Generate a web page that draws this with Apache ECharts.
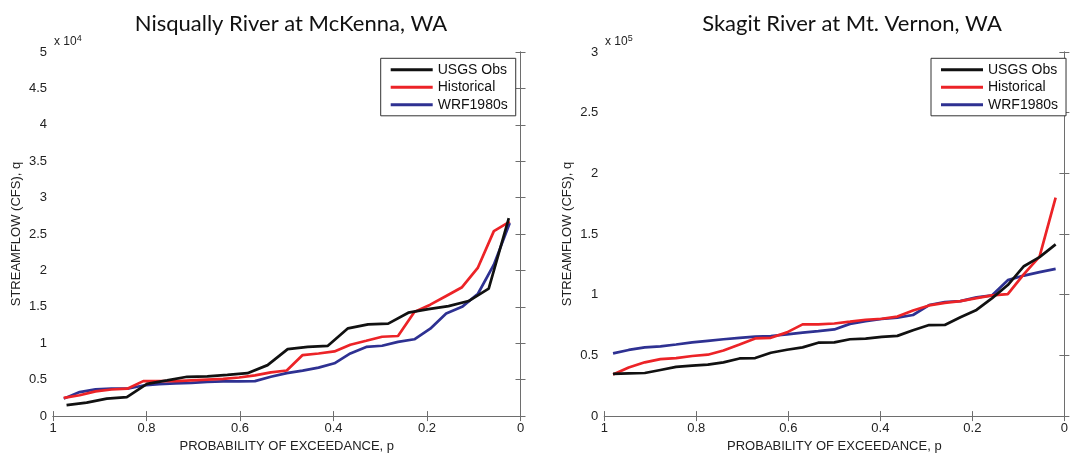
<!DOCTYPE html>
<html>
<head>
<meta charset="utf-8">
<script src="https://cdn.jsdelivr.net/npm/echarts@6/dist/echarts.min.js"></script>
<style>
html,body{margin:0;padding:0;background:#fff;}
#chart{width:1071px;height:458px;}
</style>
</head>
<body>
<div id="chart"></div>
<script>
// ---- Data ----
const titles = ['Nisqually River at McKenna, WA', 'Skagit River at Mt. Vernon, WA'];
const seriesNames = ['USGS Obs', 'Historical', 'WRF1980s'];
const xTickLabels = ['0', '0.2', '0.4', '0.6', '0.8', '1'];

// Nisqually (cfs)
const pNisObs = [0.971,0.928,0.885,0.842,0.799,0.756,0.713,0.670,0.627,0.584,0.541,0.498,0.455,0.412,0.369,0.326,0.283,0.240,0.197,0.154,0.111,0.068,0.025];
const qNisObs = [1500,1850,2400,2600,4430,4900,5400,5450,5670,5900,7000,9200,9500,9650,12050,12600,12700,14200,14700,15100,15800,17500,27200];
const pNisSim = [0.977,0.943,0.909,0.875,0.841,0.807,0.773,0.738,0.704,0.670,0.636,0.602,0.568,0.534,0.500,0.466,0.432,0.398,0.364,0.330,0.296,0.262,0.227,0.193,0.159,0.125,0.091,0.057,0.023];
const qNisHist = [2500,2860,3400,3650,3760,4800,4800,4800,4900,5000,5100,5300,5600,6000,6260,8380,8600,8880,9800,10340,10900,11000,14300,15300,16500,17700,20400,25400,26700];
const qNisWrf = [2400,3300,3670,3760,3760,4200,4400,4500,4550,4700,4760,4760,4800,5400,5900,6250,6650,7250,8600,9500,9660,10200,10550,12000,14100,15000,16800,20800,26500];

// Skagit (cfs)
const pSkaSim = [0.981,0.947,0.912,0.878,0.844,0.809,0.775,0.741,0.706,0.672,0.638,0.603,0.569,0.535,0.500,0.466,0.432,0.397,0.363,0.329,0.294,0.260,0.226,0.191,0.157,0.123,0.088,0.054,0.019];
const qSkaObs = [34800,35200,35500,38000,40500,41600,42400,44300,47500,47800,52200,54700,56600,60500,60700,63300,63900,65300,66100,70700,75000,75100,81500,87500,97200,108000,123500,131000,141500];
const qSkaHist = [34300,40000,44300,47000,47800,49500,50600,54000,59000,64000,64500,69000,75600,75600,76300,77800,79400,80200,82000,87000,91200,93300,94700,97200,99500,100500,117000,131400,180000];
const qSkaWrf = [51700,54500,56600,57500,59000,60700,62000,63300,64500,65500,66000,67400,68800,70000,71400,76000,78300,80000,81200,83300,91500,94000,94700,97800,99500,112000,115800,118600,121300];

const colors = ['#111111', '#ec2327', '#2e3192'];

function pairs(p, q) { return p.map((v, i) => [v, q[i]]); }

const chart = echarts.init(document.getElementById('chart'));
const axisColor = '#6e6e6e';
const labelColor = '#222';
const fontFam = '"Liberation Sans", Arial, sans-serif';

const grids = [
  { left: 53, right: 550.5, top: 52, bottom: 38.7, containLabel: false },
  { left: 604.3, right: 2.5, top: 52, bottom: 38.7, containLabel: false }
];
const yMax = [50000, 300000];
const yStep = [5000, 50000];
const yScale = [1e4, 1e5];

const xAxes = [], yAxes = [];
[0, 1].forEach(g => {
  xAxes.push({
    type: 'value', gridIndex: g, min: 0, max: 1, interval: 0.2, inverse: true,
    position: 'bottom',
    name: 'PROBABILITY OF EXCEEDANCE, p', nameLocation: 'middle', nameGap: 20,
    nameTextStyle: { fontSize: 13, color: labelColor, fontFamily: fontFam },
    axisLine: { show: true, lineStyle: { color: axisColor, width: 1 } },
    axisTick: { show: true, inside: true, length: 5, lineStyle: { color: axisColor } },
    axisLabel: { fontSize: 13, color: labelColor, fontFamily: fontFam, margin: 6,
      formatter: v => xTickLabels[Math.round(v * 5)] },
    splitLine: { show: false }
  });
  xAxes.push({
    type: 'value', gridIndex: g, min: 0, max: 1, interval: 0.2, inverse: true,
    position: 'top',
    axisLine: { show: true, lineStyle: { color: axisColor, width: 1 } },
    axisTick: { show: true, inside: true, length: 5, lineStyle: { color: axisColor } },
    axisLabel: { show: false }, splitLine: { show: false }
  });
  yAxes.push({
    type: 'value', gridIndex: g, min: 0, max: yMax[g], interval: yStep[g],
    position: 'left',
    name: 'STREAMFLOW (CFS), q', nameLocation: 'middle', nameGap: 30,
    nameTextStyle: { fontSize: 13, color: labelColor, fontFamily: fontFam },
    axisLine: { show: true, lineStyle: { color: axisColor, width: 1 } },
    axisTick: { show: true, inside: true, length: 5, lineStyle: { color: axisColor } },
    axisLabel: { fontSize: 13, color: labelColor, fontFamily: fontFam, margin: 6,
      formatter: v => String(+(v / yScale[g]).toFixed(1)) },
    splitLine: { show: false }
  });
  yAxes.push({
    type: 'value', gridIndex: g, min: 0, max: yMax[g], interval: yStep[g],
    position: 'right',
    axisLine: { show: true, lineStyle: { color: axisColor, width: 1 } },
    axisTick: { show: true, inside: true, length: 5, lineStyle: { color: axisColor } },
    axisLabel: { show: false }, splitLine: { show: false }
  });
});

function line(name, data, g, ci) {
  return {
    name: name, type: 'line', xAxisIndex: g * 2, yAxisIndex: g * 2,
    data: data, symbol: 'none', smooth: false, animation: false,
    lineStyle: { color: colors[ci], width: 2.7 }, itemStyle: { color: colors[ci] },
    z: 3 - ci + 2
  };
}

const series = [
  line(seriesNames[0], pairs(pNisObs, qNisObs), 0, 0),
  line(seriesNames[1], pairs(pNisSim, qNisHist), 0, 1),
  line(seriesNames[2], pairs(pNisSim, qNisWrf), 0, 2),
  line(seriesNames[0], pairs(pSkaSim, qSkaObs), 1, 0),
  line(seriesNames[1], pairs(pSkaSim, qSkaHist), 1, 1),
  line(seriesNames[2], pairs(pSkaSim, qSkaWrf), 1, 2)
];

function legend(left) {
  return {
    orient: 'vertical', left: left, top: 58.3,
    data: seriesNames, icon: 'rect',
    itemWidth: 42, itemHeight: 3, itemGap: 3.5, itemTextGap: 5,
    padding: [4.5, 8, 4, 10],
    borderColor: '#333', borderWidth: 1, backgroundColor: '#fff',
    textStyle: { fontSize: 14, color: '#111', fontFamily: fontFam },
    selectedMode: false
  };
}

const option = {
  backgroundColor: '#fff',
  animation: false,
  title: [
    { text: titles[0], left: 286, top: 8, textAlign: 'center',
      textStyle: { fontSize: 22, fontWeight: 'normal', color: '#111', fontFamily: 'Lato, "Open Sans", sans-serif' } },
    { text: titles[1], left: 847, top: 8, textAlign: 'center',
      textStyle: { fontSize: 22, fontWeight: 'normal', color: '#111', fontFamily: 'Lato, "Open Sans", sans-serif' } }
  ],
  grid: grids,
  xAxis: xAxes,
  yAxis: yAxes,
  legend: [legend(380.7), legend(931)],
  graphic: [
    { type: 'text', left: 54, top: 34, style: { text: 'x 10{s|4}', rich: { s: { fontSize: 9, verticalAlign: 'top', padding: [0,0,6,0] } }, font: '12px "Liberation Sans", Arial, sans-serif', fill: '#222' } },
    { type: 'text', left: 605, top: 34, style: { text: 'x 10{s|5}', rich: { s: { fontSize: 9, verticalAlign: 'top', padding: [0,0,6,0] } }, font: '12px "Liberation Sans", Arial, sans-serif', fill: '#222' } }
  ],
  series: series
};
chart.setOption(option);
</script>
</body>
</html>
